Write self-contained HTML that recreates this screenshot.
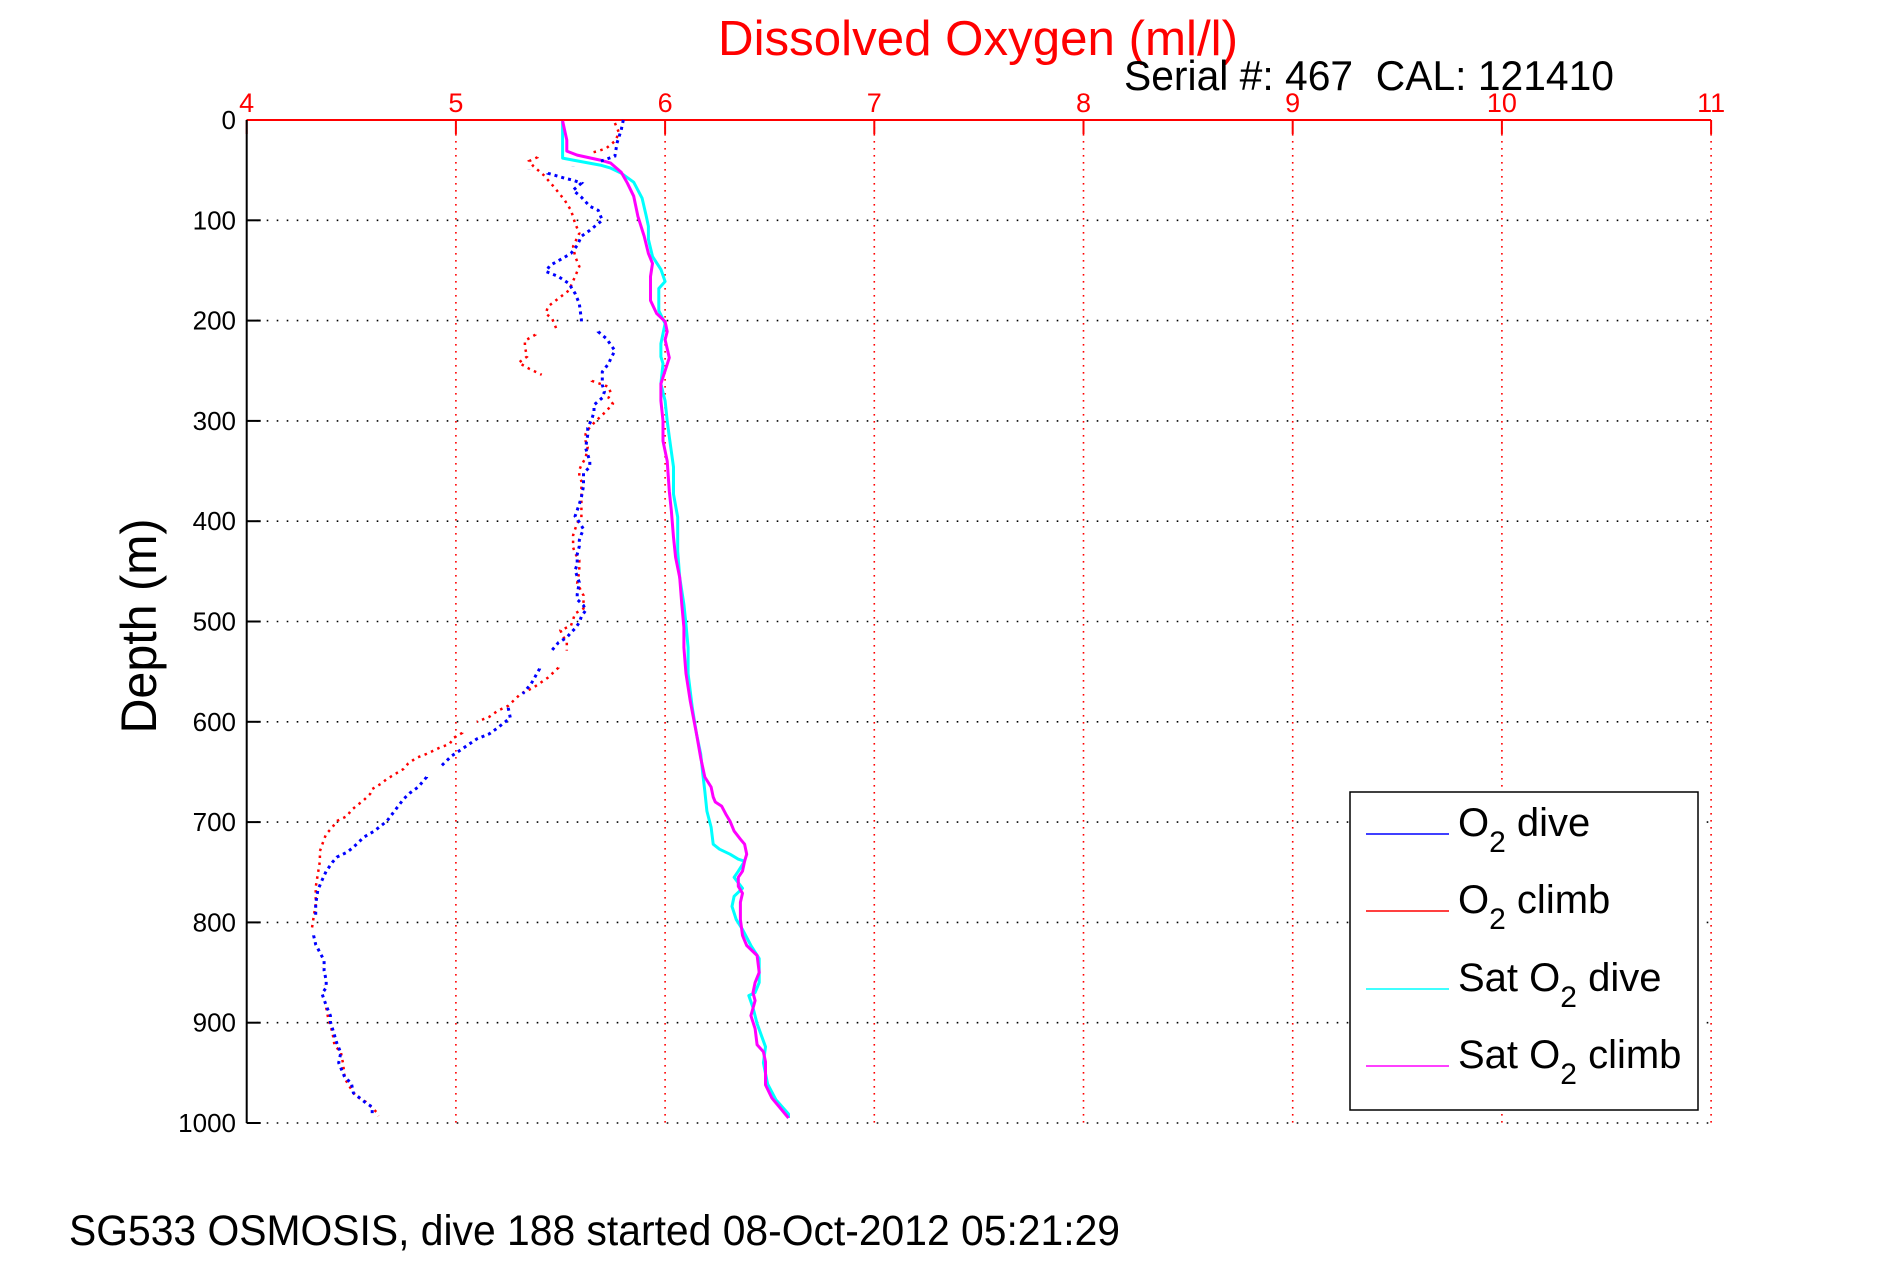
<!DOCTYPE html>
<html><head><meta charset="utf-8"><title>Dissolved Oxygen</title>
<style>html,body{margin:0;padding:0;background:#fff}svg{display:block}text{font-family:"Liberation Sans",Arial,sans-serif}</style>
</head><body>
<svg id="chart" width="1891" height="1262" viewBox="0 0 1891 1262" xmlns="http://www.w3.org/2000/svg">
<rect width="1891" height="1262" fill="#fff"/>
<g id="grid"></g>
<g id="axes"></g>
<g id="series"></g>
<text x="718" y="55" font-size="49" fill="#ff0000" textLength="520" lengthAdjust="spacingAndGlyphs">Dissolved Oxygen (ml/l)</text>
<text x="1124" y="90" font-size="42" fill="#000" textLength="490" lengthAdjust="spacingAndGlyphs">Serial #: 467 &#160;CAL: 121410</text>
<text transform="translate(156,626) rotate(-90)" text-anchor="middle" font-size="50" fill="#000" textLength="215" lengthAdjust="spacingAndGlyphs">Depth (m)</text>
<text x="69" y="1245" font-size="43" fill="#000" textLength="1051" lengthAdjust="spacingAndGlyphs">SG533 OSMOSIS, dive 188 started 08-Oct-2012 05:21:29</text>
<g>
<rect x="1350" y="792" width="348" height="318" fill="#fff" stroke="#000" stroke-width="1.5"/>
<g><line x1="1366" y1="834" x2="1449" y2="834" stroke="#0000ff" stroke-width="1.5"/><text x="1458" y="836" font-size="40">O<tspan font-size="30" dy="16">2</tspan><tspan dy="-16"> dive</tspan></text></g>
<g><line x1="1366" y1="911" x2="1449" y2="911" stroke="#ff0000" stroke-width="1.5"/><text x="1458" y="913" font-size="40">O<tspan font-size="30" dy="16">2</tspan><tspan dy="-16"> climb</tspan></text></g>
<g><line x1="1366" y1="989" x2="1449" y2="989" stroke="#00ffff" stroke-width="1.5"/><text x="1458" y="991" font-size="40">Sat O<tspan font-size="30" dy="16">2</tspan><tspan dy="-16"> dive</tspan></text></g>
<g><line x1="1366" y1="1066" x2="1449" y2="1066" stroke="#ff00ff" stroke-width="1.5"/><text x="1458" y="1068" font-size="40">Sat O<tspan font-size="30" dy="16">2</tspan><tspan dy="-16"> climb</tspan></text></g>
</g>
</svg>
<script>
const xTicks = [4,5,6,7,8,9,10,11];
const yTicks = [0,100,200,300,400,500,600,700,800,900,1000];
const o2DiveDepth = [0,10,23,36,42,46,49,53,58,60,63,70,77,86,90,100,110,116,125,133,138,145,151,156,163,173,183,199,204,211,218,224,230,238,243,251,258,264,271,277,284,291,298,307,314,327,340,346,352,365,376,383,389,395,401,408,413,419,425,433,443,449,461,473,478,484,489,495,501,507,511,516,521,531,547,562,572,586,596,606,612,617,627,634,644,655,665,671,677,688,699,709,715,725,730,735,740,749,758,768,782,795,813,822,830,838,848,858,865,871,883,893,899,913,920,930,940,945,955,960,970,975,980,984,991];
const o2DiveVal = [5.80,5.79,5.77,5.76,5.68,5.56,5.35,5.44,5.52,5.56,5.60,5.56,5.60,5.64,5.68,5.70,5.64,5.60,5.58,5.55,5.51,5.45,5.43,5.49,5.54,5.57,5.59,5.60,5.60,5.68,5.72,5.74,5.76,5.74,5.73,5.70,5.70,5.70,5.71,5.70,5.66,5.66,5.65,5.63,5.63,5.62,5.64,5.64,5.61,5.61,5.60,5.59,5.58,5.57,5.59,5.61,5.60,5.59,5.59,5.58,5.58,5.57,5.59,5.58,5.58,5.61,5.62,5.60,5.59,5.57,5.55,5.53,5.49,5.45,5.40,5.36,5.32,5.25,5.26,5.20,5.16,5.10,5.03,4.98,4.93,4.86,4.82,4.78,4.75,4.71,4.67,4.61,4.56,4.51,4.48,4.43,4.41,4.38,4.36,4.34,4.33,4.33,4.32,4.33,4.35,4.37,4.37,4.38,4.38,4.36,4.38,4.40,4.40,4.42,4.43,4.45,4.44,4.45,4.47,4.50,4.51,4.54,4.57,4.60,4.60];
const o2ClimbDepth = [3,13,21,28,31,33,37,41,46,55,67,80,90,103,113,126,136,146,156,170,178,186,193,198,208,214,220,226,236,242,248,254,260,266,272,277,283,290,296,302,309,313,320,326,337,344,349,355,360,372,384,396,402,408,414,426,432,439,450,462,474,487,492,498,504,509,514,521,529,546,556,566,572,584,589,595,600,611,616,622,626,632,636,642,647,652,657,662,667,672,678,683,688,694,699,705,712,717,723,729,739,752,765,782,795,808,827,845,863,885,896,910,923,929,940,956,963,973,979,989,993];
const o2ClimbVal = [5.76,5.78,5.76,5.72,5.68,5.64,5.39,5.35,5.37,5.42,5.47,5.52,5.55,5.57,5.59,5.56,5.57,5.59,5.57,5.54,5.49,5.44,5.43,5.46,5.48,5.38,5.33,5.33,5.34,5.30,5.35,5.41,5.65,5.73,5.74,5.73,5.75,5.72,5.69,5.66,5.63,5.62,5.62,5.63,5.62,5.60,5.59,5.59,5.60,5.60,5.60,5.60,5.58,5.57,5.56,5.56,5.57,5.59,5.59,5.58,5.61,5.61,5.57,5.56,5.55,5.50,5.51,5.53,5.53,5.49,5.44,5.37,5.31,5.25,5.20,5.16,5.10,5.03,4.99,4.97,4.92,4.86,4.81,4.77,4.75,4.71,4.67,4.64,4.60,4.59,4.56,4.53,4.50,4.48,4.43,4.41,4.38,4.37,4.36,4.35,4.35,4.34,4.33,4.33,4.32,4.31,4.34,4.36,4.37,4.38,4.39,4.41,4.42,4.45,4.46,4.47,4.49,4.52,4.57,4.62,4.63];
const satDiveDepth = [1,17,38,40,45,48,53,62,78,96,106,119,136,149,161,168,190,203,223,236,243,263,280,300,316,346,373,396,430,456,483,503,526,552,586,612,632,652,669,689,705,722,727,732,737,739,749,755,766,774,784,797,807,823,836,860,870,873,885,901,924,940,961,977,991,995];
const satDiveVal = [5.51,5.51,5.51,5.56,5.69,5.74,5.79,5.85,5.89,5.91,5.92,5.92,5.94,5.98,6.00,5.97,5.97,6.00,5.98,5.98,5.99,5.98,6.00,6.01,6.02,6.04,6.04,6.06,6.06,6.07,6.09,6.10,6.11,6.11,6.13,6.15,6.17,6.18,6.19,6.20,6.22,6.23,6.26,6.31,6.35,6.38,6.35,6.33,6.37,6.33,6.32,6.34,6.37,6.41,6.45,6.45,6.43,6.40,6.42,6.44,6.48,6.47,6.49,6.53,6.59,6.59];
const satClimbDepth = [1,20,31,35,40,43,52,63,76,96,116,133,143,156,180,193,201,211,219,237,250,263,280,300,320,340,370,390,416,436,456,483,506,526,552,579,612,636,655,665,675,680,684,692,699,709,717,722,732,739,749,755,764,771,780,797,813,823,833,850,860,870,878,893,906,922,929,939,962,975,985,995];
const satClimbVal = [5.51,5.53,5.53,5.58,5.69,5.74,5.79,5.82,5.85,5.87,5.90,5.92,5.94,5.93,5.93,5.96,6.00,6.01,6.00,6.02,6.00,5.98,5.98,5.99,5.99,6.01,6.02,6.03,6.04,6.05,6.07,6.08,6.09,6.09,6.10,6.12,6.15,6.17,6.19,6.22,6.23,6.24,6.27,6.29,6.31,6.33,6.36,6.38,6.39,6.38,6.37,6.35,6.35,6.37,6.36,6.36,6.37,6.39,6.44,6.45,6.43,6.42,6.43,6.41,6.43,6.44,6.47,6.48,6.48,6.51,6.55,6.59];

const NS = 'http://www.w3.org/2000/svg';
const X0 = 246.7, XS = 209.2, Y0 = 120, YS = 1.003;
function xScale(v){ return X0 + (v - 4) * XS; }
function yScale(d){ return Y0 + d * YS; }
function mk(tag, attrs, parent){ const e = document.createElementNS(NS, tag); for (const k in attrs) e.setAttribute(k, attrs[k]); parent.appendChild(e); return e; }

const grid = document.getElementById('grid');
const axes = document.getElementById('axes');
const series = document.getElementById('series');

yTicks.forEach(function(d){
  if (d > 0) {
    const g = mk('line', {x1: X0, y1: yScale(d), x2: xScale(11), y2: yScale(d), stroke: '#000', 'stroke-width': 1.6, 'stroke-dasharray': '1.6 8.4'}, grid);
    
    
  }
  const t = mk('line', {x1: X0, y1: yScale(d), x2: X0 + 14, y2: yScale(d), stroke: '#000', 'stroke-width': 2}, axes);
  
  
  const lb = mk('text', {x: 236, y: yScale(d) + 9, 'text-anchor': 'end', 'font-size': 26, fill: '#000'}, axes);
  lb.textContent = String(d);
  
  
});
xTicks.forEach(function(v){
  if (v > 4) {
    const g = mk('line', {x1: xScale(v), y1: Y0, x2: xScale(v), y2: yScale(1000), stroke: '#ff0000', 'stroke-width': 1.6, 'stroke-dasharray': '1.6 5.4'}, grid);
    
    
  }
  const t = mk('line', {x1: xScale(v), y1: Y0, x2: xScale(v), y2: Y0 + 14, stroke: '#ff0000', 'stroke-width': 2}, axes);
  
  
  const lb = mk('text', {x: xScale(v), y: 112, 'text-anchor': 'middle', 'font-size': 27, fill: '#ff0000'}, axes);
  lb.textContent = String(v);
  
  
});
const topAxis = mk('line', {x1: X0, y1: Y0, x2: xScale(11), y2: Y0, stroke: '#ff0000', 'stroke-width': 2}, axes);


const leftAxis = mk('line', {x1: X0, y1: Y0, x2: X0, y2: yScale(1000), stroke: '#000', 'stroke-width': 2}, axes);



function pathD(vals, depths, gap){
  let out = '', px = null, py = null;
  vals.forEach(function(v, i){
    const x = xScale(v), y = yScale(depths[i]);
    const jump = px !== null && gap && Math.hypot(x - px, y - py) > gap;
    out += ((i === 0 || jump) ? 'M' : 'L') + x.toFixed(1) + ' ' + y.toFixed(1) + ' ';
    if (jump) out += 'l0 0.1 ';
    px = x; py = y;
  });
  return out;
}

const sd = mk('path', {d: pathD(satDiveVal, satDiveDepth), fill: 'none', stroke: '#00ffff', 'stroke-width': 3, 'stroke-linejoin': 'round'}, series);


const sc = mk('path', {d: pathD(satClimbVal, satClimbDepth), fill: 'none', stroke: '#ff00ff', 'stroke-width': 3, 'stroke-linejoin': 'round'}, series);


const oc = mk('path', {d: pathD(o2ClimbVal, o2ClimbDepth, 18), fill: 'none', stroke: '#ff0000', 'stroke-width': 2.5, 'stroke-dasharray': '2.5 4.5', 'stroke-linecap': 'butt'}, series);


const od = mk('path', {d: pathD(o2DiveVal, o2DiveDepth, 18), fill: 'none', stroke: '#0000ff', 'stroke-width': 3, 'stroke-dasharray': '3 4'}, series);


</script>
</body></html>
